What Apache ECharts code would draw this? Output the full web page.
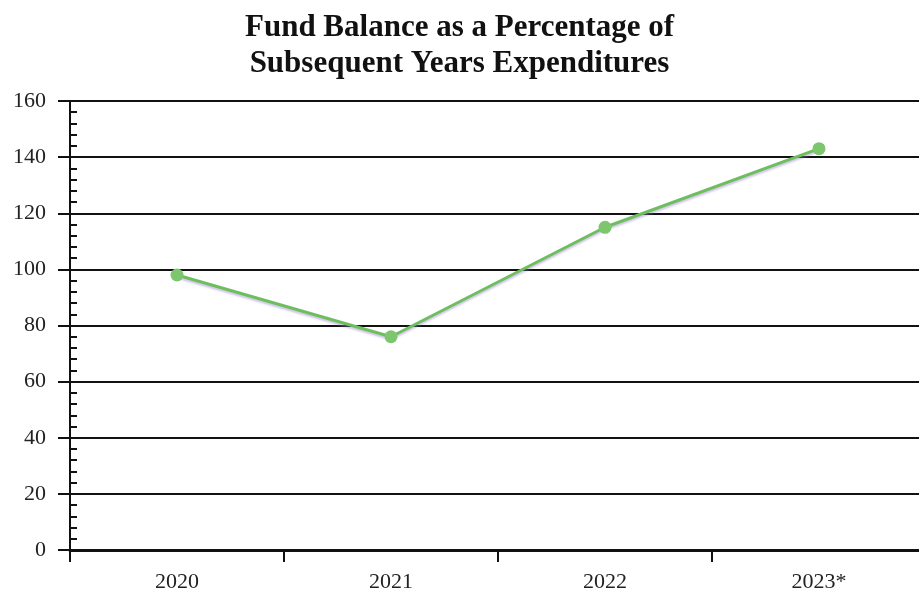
<!DOCTYPE html>
<html>
<head>
<meta charset="utf-8">
<script src="https://cdn.jsdelivr.net/npm/echarts@6/dist/echarts.min.js"></script>
<style>html,body{margin:0;padding:0;background:#fff;}#c{width:919px;height:592px;}</style>
</head>
<body>
<div id="c"></div>
<script>
const titleLines = ['Fund Balance as a Percentage of', 'Subsequent Years Expenditures'];
const years = ['2020', '2021', '2022', '2023*'];
const fundBalancePct = [98, 76, 115, 143];
const yMin = 0, yMax = 160, yStep = 20;

const chart = echarts.init(document.getElementById('c'), null, {renderer: 'canvas'});
const serif = '"Liberation Serif", "DejaVu Serif", serif';
chart.setOption({
  animation: false,
  backgroundColor: '#ffffff',
  title: {
    text: titleLines.join('\n'),
    left: 'center',
    top: 5,
    textStyle: {fontFamily: serif, fontWeight: 'bold', fontSize: 31, lineHeight: 36, color: '#111'}
  },
  grid: {left: 70, top: 101, width: 856, bottom: 42, containLabel: false, outerBoundsMode: 'none'},
  xAxis: {
    type: 'category',
    data: years,
    boundaryGap: true,
    axisLine: {lineStyle: {color: '#111', width: 3}},
    axisTick: {show: true, length: 12, lineStyle: {color: '#111', width: 2}},
    axisLabel: {fontFamily: serif, fontSize: 22, color: '#222', margin: 21},
    splitLine: {show: false}
  },
  yAxis: {
    type: 'value',
    min: yMin, max: yMax, interval: yStep,
    axisLine: {show: true, lineStyle: {color: '#111', width: 2}},
    axisTick: {show: true, length: 12, lineStyle: {color: '#111', width: 2}},
    minorTick: {show: true, splitNumber: 5, length: -7, lineStyle: {color: '#111', width: 2}},
    axisLabel: {fontFamily: serif, fontSize: 22, color: '#222', margin: 24},
    splitLine: {show: true, lineStyle: {color: '#111', width: 2}}
  },
  series: [{
    type: 'line',
    data: fundBalancePct,
    symbol: 'circle',
    symbolSize: 13,
    lineStyle: {color: '#6cbf5c', width: 3, shadowColor: 'rgba(150,120,200,0.45)', shadowOffsetY: 2, shadowBlur: 2},
    itemStyle: {color: '#7cc66e'},
    z: 5
  }]
});
</script>
</body>
</html>
